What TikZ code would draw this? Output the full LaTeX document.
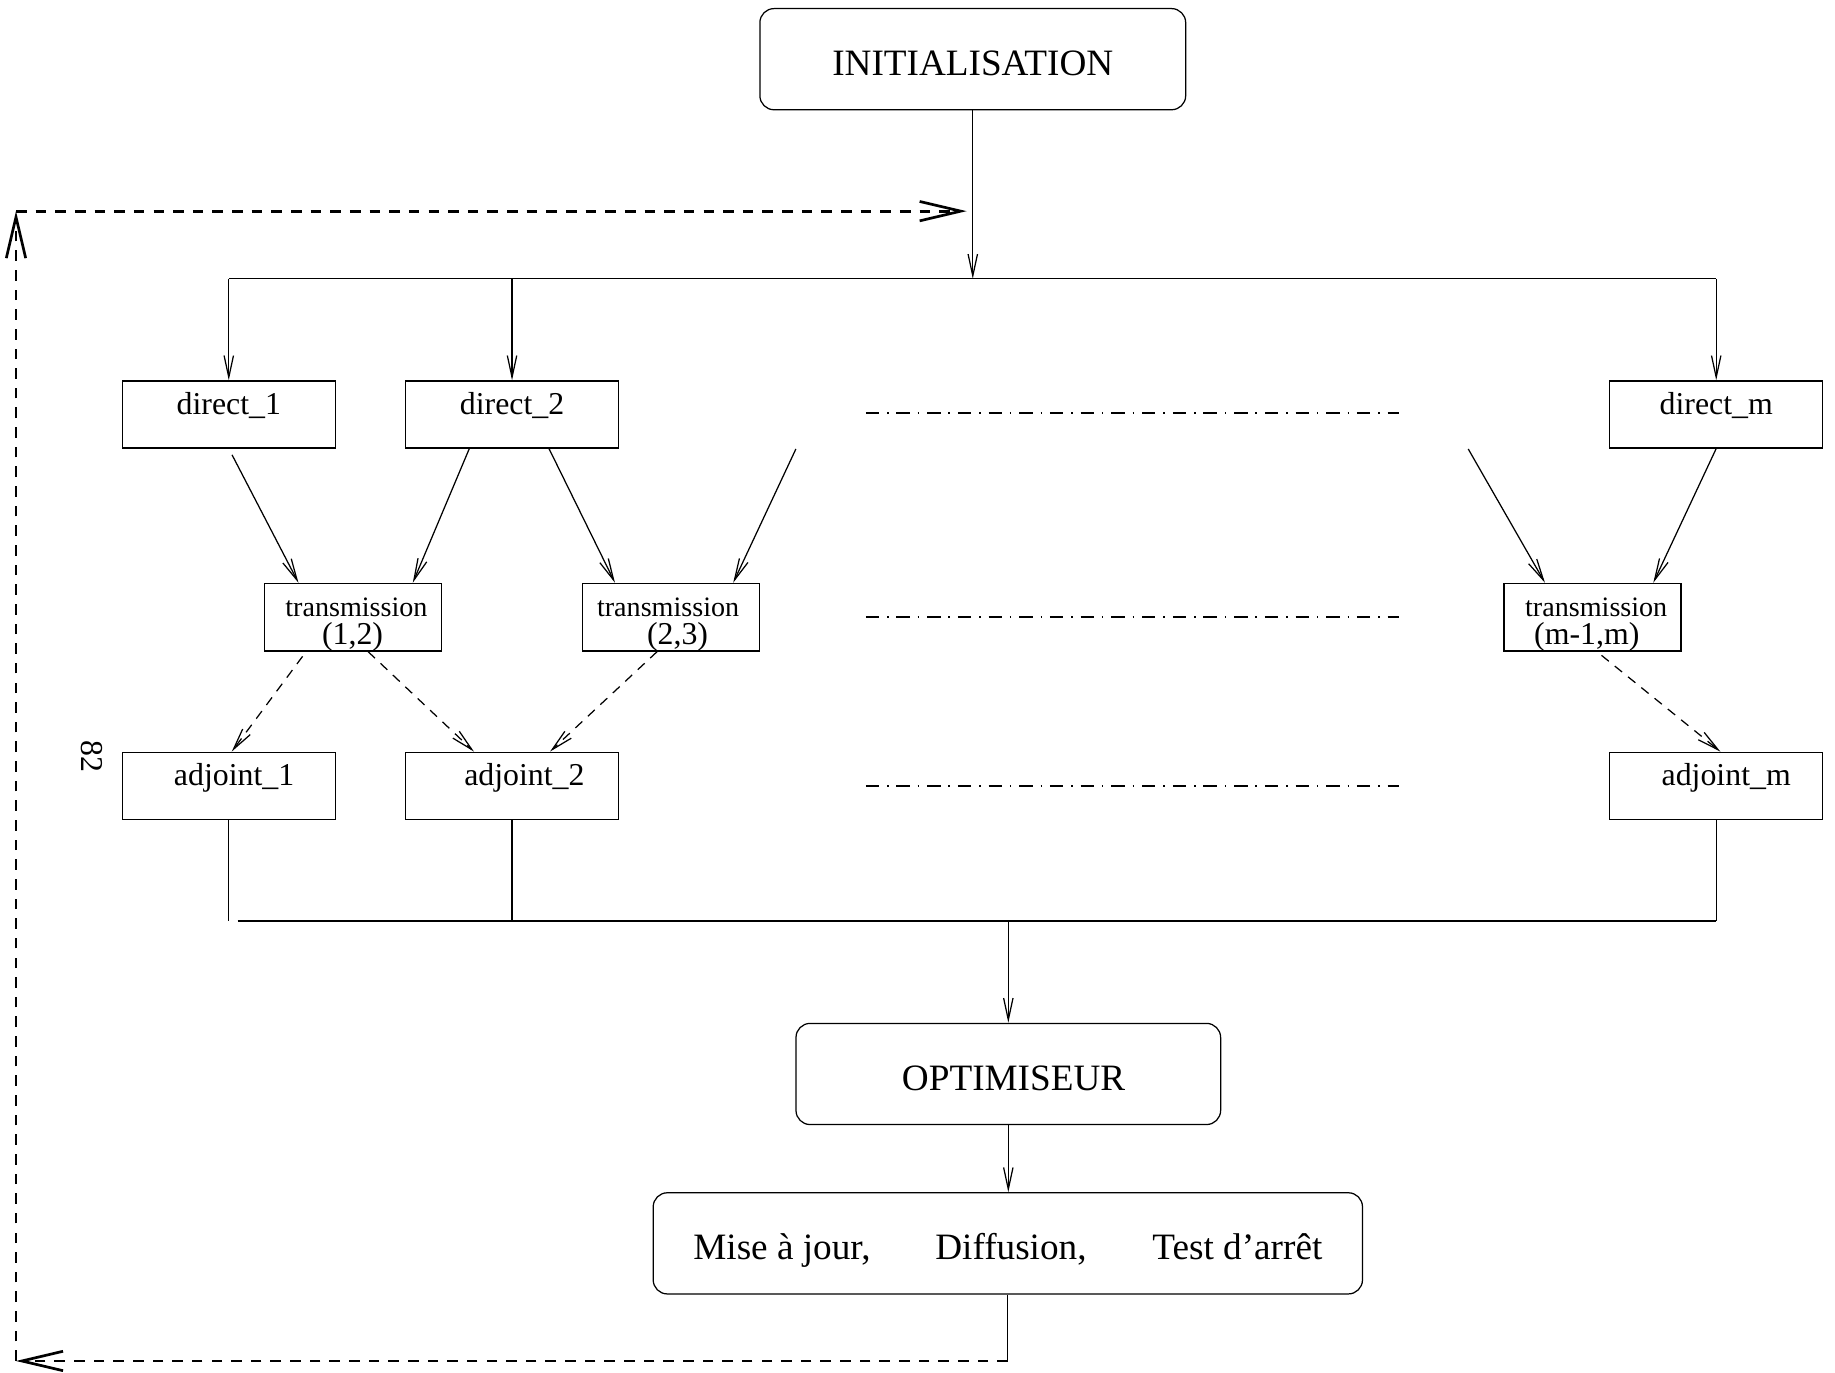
\documentclass[tikz,border=0pt]{standalone}
\usepackage{fontspec}
\setmainfont{Liberation Serif}
\usetikzlibrary{arrows.meta,calc}

\begin{document}
\begin{tikzpicture}[x=0.1mm,y=-0.1mm,line width=0.3pt,
    >={Straight Barb[length=1.85mm,width=0.8mm]},
    boite/.style={draw,minimum width=18.1mm,minimum height=5.7mm,inner sep=0pt,
      text height=1.8mm,text depth=1.8mm,font=\fontsize{7.7}{9}\selectfont},
    trans/.style={draw,minimum width=15.05mm,minimum height=5.75mm,inner sep=0pt},
    etape/.style={draw,rounded corners=1.2mm,minimum height=8.6mm,inner sep=0pt,
      text height=2.8mm,text depth=0pt,font=\fontsize{9}{11}\selectfont},
    petit/.style={anchor=base,inner sep=0pt,font=\fontsize{6.8}{8}\selectfont},
    moyen/.style={anchor=base,inner sep=0pt,font=\fontsize{7.7}{9}\selectfont},
    pointille/.style={dash pattern=on 0.8mm off 0.65mm},
    boucle/.style={line width=0.65pt,dash pattern=on 0.9mm off 0.77mm,
      -{Straight Barb[length=3.5mm,width=1.65mm]}},
    tiret/.style={line width=0.55pt,dash pattern=on 1.14mm off 0.67mm on 0.13mm off 0.67mm}]
\useasboundingbox (0,0) rectangle (1560,1166.4);
% boites
\node[etape,minimum width=36.2mm] (init) at (827,50.3) {INITIALISATION};
\node[boite] (d1) at (194.5,352.3) {direct\_1};
\node[boite] (d2) at (435.3,352.3) {direct\_2};
\node[boite] (dm) at (1459,352.3) {direct\_m};
\node[trans] (t12) at (300,524.7) {};
\node[trans] (t23) at (570.7,524.7) {};
\node[trans] (tm) at (1353.8,524.7) {};
\node[petit] (t12a) at (303,524.2) {transmission};
\node[moyen] (t12b) at (299.7,547.5) {(1,2)};
\node[petit] (t23a) at (568,524.2) {transmission};
\node[moyen] (t23b) at (576,547.5) {(2,3)};
\node[petit] (tma) at (1357,524.2) {transmission};
\node[moyen] (tmb) at (1349,547.5) {(m-1,m)};
\node[boite] (a1) at (194.5,668) {\hspace*{0.9mm}adjoint\_1};
\node[boite] (a2) at (435.3,668) {\hspace*{2.1mm}adjoint\_2};
\node[boite] (am) at (1459,668) {\hspace*{1.7mm}adjoint\_m};
\node[etape,minimum width=36.1mm] (opt) at (857.2,913) {\hspace*{0.9mm}OPTIMISEUR};
\node[etape,minimum width=60.3mm] (mise) at (856.8,1057)
  {Mise à jour,\hspace{5.5mm}Diffusion,\hspace{5.6mm}Test d’arrêt};
\node[moyen,anchor=center,rotate=-90] (num) at (78,643) {82};
% repartition
\coordinate (bus-g) at (194.5,237); \coordinate (bus-d) at (1459,237);
\draw[->] (init.south) -- (init.south |- bus-g);
\draw (bus-g) -- (bus-d);
\draw[->] (bus-g) -- (d1.north);
\draw[->] (d2.north |- bus-g) -- (d2.north);
\draw[->] (bus-d) -- (dm.north);
% direct -> transmission
\coordinate (libre1) at (676.6,381.7); \coordinate (libre2) at (1248.2,381.7);
\draw[->,shorten <=0.6mm] (d1.south) -- ($(t12.north west)+(29.5,0)$);
\draw[->] ($(d2.south)+(-36.3,0)$) -- ($(t12.north west)+(126.7,0)$);
\draw[->] ($(d2.south)+(31.4,0)$) -- ($(t23.north west)+(27.9,0)$);
\draw[->] (libre1) -- ($(t23.north west)+(128.4,0)$);
\draw[->] (libre2) -- ($(tm.north west)+(35.4,0)$);
\draw[->] (dm.south) -- ($(tm.north west)+(127.5,0)$);
% transmission -> adjoint
\draw[->,pointille,shorten <=0.5mm] ($(t12.south west)+(36,0)$) -- ($(a1.north)+(2.5,0)$);
\draw[->,pointille] ($(t12.south west)+(88.7,0)$) -- ($(a2.north west)+(58.7,0)$);
\draw[->,pointille] ($(t23.south west)+(63.7,0)$) -- ($(a2.north west)+(123.3,0)$);
\draw[->,pointille,shorten <=0.5mm] ($(tm.south west)+(79.6,0)$) -- ($(am.north)+(3.6,0)$);
% pointilles
\draw[tiret] (736,351) -- (1189,351);
\draw[tiret] (736,524.6) -- (1189,524.6);
\draw[tiret] (736,668) -- (1189,668);
% regroupement
\coordinate (bas-g) at (202,783); \coordinate (bas-d) at (1459,783);
\draw (a1.south) -- (a1.south |- bas-g);
\draw (a2.south) -- (a2.south |- bas-g);
\draw (am.south) -- (bas-d);
\draw (bas-g) -- (bas-d);
\draw[->] (opt.north |- bas-g) -- (opt.north);
\draw[->] (opt.south) -- (opt.south |- mise.north);
% boucle
\coordinate (ret) at (856.8,1157); \coordinate (coin-b) at (13.6,1157);
\coordinate (coin-h) at (13.6,179.5); \coordinate (entree) at (821.8,179.5);
\draw (mise.south) -- (ret);
\draw[boucle] (ret) -- (coin-b);
\draw[boucle] (coin-b) -- (coin-h);
\draw[boucle] (coin-h) -- (entree);
\end{tikzpicture}
\end{document}
